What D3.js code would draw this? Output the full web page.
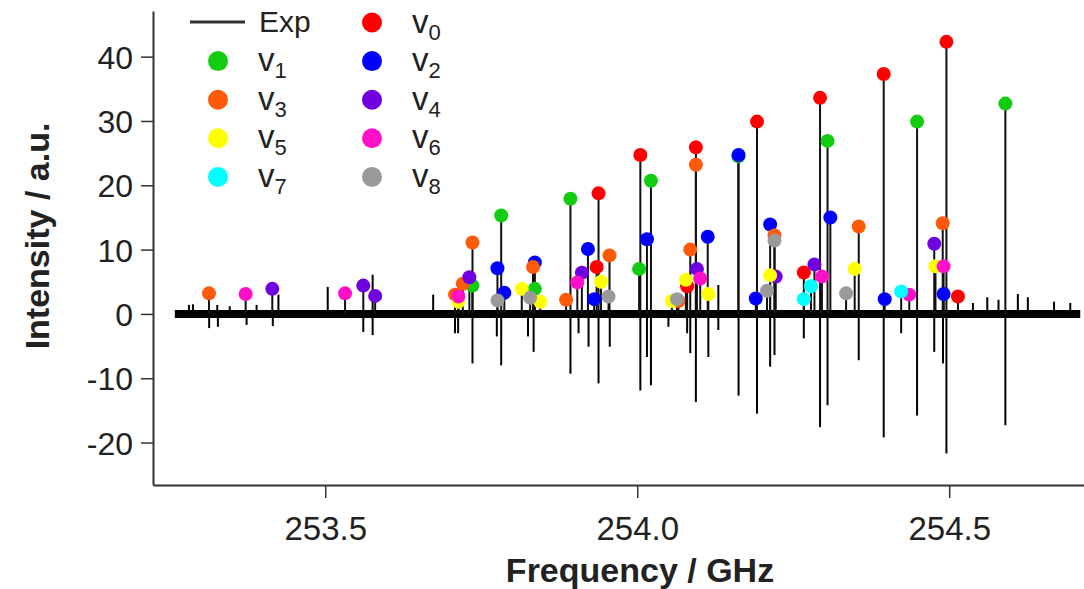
<!DOCTYPE html>
<html>
<head>
<meta charset="utf-8">
<script src="https://cdn.jsdelivr.net/npm/d3@7"></script>
<style>
body{margin:0;background:#fff;}
svg{display:block;font-family:"Liberation Sans",Arial,Helvetica,sans-serif;}
</style>
</head>
<body>
<svg id="canvas" width="1084" height="589"></svg>
<script>
// series names + colours (legend order v0..v8)
const seriesNames = ["0", "1", "2", "3", "4", "5", "6", "7", "8"];
const seriesColors = ["#ff0000", "#11cc11", "#0000ff", "#ff5a0a", "#7000e0", "#ffff00", "#ff10c8", "#00ffff", "#9a9a9a"];

// simulated line positions [frequency GHz, intensity]
const v0Lines = [[253.938,18.75],[253.935,7.3],[254.005,24.7],[254.094,25.9],[254.080,4.3],[254.192,29.9],[254.267,6.45],[254.293,33.6],[254.395,37.3],[254.4955,42.3],[254.514,2.7]];
const v1Lines = [[253.736,4.4],[253.782,15.3],[253.836,3.9],[253.893,17.9],[254.003,7.0],[254.022,20.7],[254.162,24.5],[254.305,26.9],[254.4485,29.9],[254.590,32.7]];
const v2Lines = [[253.776,7.1],[253.787,3.3],[253.836,8.0],[253.921,10.1],[253.931,2.3],[254.0156,11.6],[254.113,12.0],[254.1624,24.7],[254.190,2.4],[254.213,13.9],[254.3095,15.0],[254.3966,2.3],[254.491,3.1]];
const v3Lines = [[253.3137,3.2],[253.708,3.0],[253.7205,4.7],[253.736,11.1],[253.833,7.3],[253.886,2.2],[253.9556,9.1],[254.066,2.0],[254.085,10.0],[254.094,23.2],[254.220,12.2],[254.355,13.6],[254.4896,14.1]];
const v4Lines = [[253.4152,3.9],[253.561,4.4],[253.580,2.8],[253.731,5.7],[253.9113,6.4],[254.0957,7.0],[254.222,5.8],[254.284,7.7],[254.476,10.9]];
const v5Lines = [[253.7134,1.9],[253.815,3.9],[253.8445,1.9],[253.942,5.0],[254.0556,2.0],[254.078,5.3],[254.114,3.1],[254.213,6.0],[254.3485,7.0],[254.478,7.4]];
const v6Lines = [[253.3725,3.1],[253.5318,3.2],[253.7134,2.7],[253.904,4.9],[254.101,5.5],[254.296,5.8],[254.436,3.0],[254.491,7.4]];
const v7Lines = [[254.267,2.3],[254.2785,4.3],[254.423,3.5]];
const v8Lines = [[253.776,2.1],[253.8284,2.5],[253.954,2.7],[254.0637,2.3],[254.208,3.6],[254.220,11.4],[254.3347,3.2]];

// experimental trace: spectral range and peak tips [frequency GHz, intensity]
const expRange = [253.259, 254.710];
const expPeaks = [
  [253.314,-2.2],[253.328,-2.0],[253.374,-1.7],[253.416,-1.9],[253.561,-2.8],[253.576,-3.3],
  [253.708,-3.0],[253.713,-3.0],[253.736,-7.7],[253.775,-3.5],[253.782,-8.0],[253.825,-3.5],
  [253.834,-5.9],[253.893,-9.3],[253.906,-3.0],[253.922,-5.1],[253.938,-10.8],[253.956,-5.1],
  [254.005,-11.9],[254.0156,-6.7],[254.022,-11.1],[254.050,-2.0],[254.080,-3.0],[254.085,-6.1],
  [254.094,-13.7],[254.114,-6.7],[254.130,-2.5],[254.1624,-12.7],[254.192,-15.5],[254.213,-8.2],
  [254.220,-6.4],[254.267,-3.8],[254.293,-17.6],[254.305,-14.2],[254.355,-7.2],[254.395,-19.2],
  [254.423,-3.0],[254.4485,-15.8],[254.476,-5.9],[254.490,-7.7],[254.4955,-21.7],[254.590,-17.3],
  [253.2816,1.4],[253.288,1.5],[253.327,1.4],[253.347,1.2],[253.390,1.4],[253.425,3.0],
  [253.504,4.2],[253.576,6.1],[253.673,3.0],[254.130,4.5],[254.538,1.7],[254.561,2.6],
  [254.579,2.2],[254.610,3.1],[254.626,2.6],[254.668,1.9],[254.694,1.7]
];

const xTicks = [253.5, 254.0, 254.5];
const yTicks = [-20, -10, 0, 10, 20, 30, 40];

const lineSets = [v0Lines, v1Lines, v2Lines, v3Lines, v4Lines, v5Lines, v6Lines, v7Lines, v8Lines];

const svg = d3.select("#canvas");
const plotLeft = 153, plotRight = 1084, plotTop = 11, plotBottom = 485;

const x = d3.scaleLinear().domain([253.224, 254.716]).range([plotLeft, plotRight]);
const y = d3.scaleLinear().domain([-26.6, 47.1]).range([plotBottom, plotTop]);

// experimental spectrum: noisy baseline band + peaks
svg.append("line")
  .attr("x1", x(expRange[0])).attr("x2", x(expRange[1]))
  .attr("y1", y(0)).attr("y2", y(0))
  .attr("stroke", "#000").attr("stroke-width", 8);

svg.append("g").selectAll("line")
  .data(expPeaks)
  .join("line")
  .attr("x1", d => x(d[0])).attr("x2", d => x(d[0]))
  .attr("y1", y(0)).attr("y2", d => y(d[1]))
  .attr("stroke", "#000").attr("stroke-width", 2);

// stick spectrum
const allLines = lineSets.flatMap((arr, i) => arr.map(d => ({f: d[0], v: d[1], s: i})));

svg.append("g").selectAll("line")
  .data(allLines)
  .join("line")
  .attr("x1", d => x(d.f)).attr("x2", d => x(d.f))
  .attr("y1", y(0)).attr("y2", d => y(d.v))
  .attr("stroke", "#111").attr("stroke-width", 2);

svg.append("g").selectAll("circle")
  .data(allLines)
  .join("circle")
  .attr("cx", d => x(d.f))
  .attr("cy", d => y(d.v))
  .attr("r", 7)
  .attr("fill", d => seriesColors[d.s]);

// axes
const xAxis = svg.append("g")
  .attr("transform", `translate(0,${plotBottom})`)
  .call(d3.axisBottom(x).tickValues(xTicks).tickFormat(d3.format(".1f")).tickSize(13).tickSizeOuter(0));
const yAxis = svg.append("g")
  .attr("transform", `translate(${plotLeft},0)`)
  .call(d3.axisLeft(y).tickValues(yTicks).tickFormat(d => String(d)).tickSize(12).tickSizeOuter(0));

[xAxis, yAxis].forEach(a => {
  a.select(".domain").attr("stroke", "#333").attr("stroke-width", 2);
  a.selectAll(".tick line").attr("stroke", "#333").attr("stroke-width", 1.5);
  a.selectAll(".tick text").attr("fill", "#222")
    .style("font-family", "'Liberation Sans', Arial, sans-serif");
});
xAxis.selectAll(".tick text").style("font-size", "33px").attr("y", 55).attr("dy", 0);
yAxis.selectAll(".tick text").style("font-size", "32px").attr("x", -20).attr("dy", "0.36em");

svg.append("text")
  .attr("x", 640).attr("y", 582)
  .attr("text-anchor", "middle")
  .style("font-size", "34px").style("font-weight", "bold").attr("fill", "#222")
  .text("Frequency / GHz");

svg.append("text")
  .attr("transform", "translate(49,236) rotate(-90)")
  .attr("text-anchor", "middle")
  .style("font-size", "34px").style("font-weight", "bold").attr("fill", "#222")
  .text("Intensity / a.u.");

// legend
const legend = svg.append("g");
legend.append("line")
  .attr("x1", 190).attr("x2", 245).attr("y1", 22).attr("y2", 22)
  .attr("stroke", "#333").attr("stroke-width", 3);
legend.append("text")
  .attr("x", 259).attr("y", 32)
  .style("font-size", "30px").attr("fill", "#222")
  .text("Exp");

const rowY = i => 22.5 + 38.6 * Math.floor((i + 1) / 2);
const items = legend.selectAll(".item")
  .data(seriesNames)
  .join("g")
  .attr("class", "item")
  .attr("transform", (d, i) => `translate(${i % 2 === 0 ? 372 : 218},${rowY(i)})`);

items.append("circle")
  .attr("r", 10)
  .attr("fill", (d, i) => seriesColors[i]);

const lbl = items.append("text")
  .attr("x", 40).attr("y", 10)
  .attr("fill", "#222")
  .style("font-size", "33px");
lbl.append("tspan").text("v");
lbl.append("tspan").attr("dy", 7).style("font-size", "22px").text(d => d);
</script>
</body>
</html>
